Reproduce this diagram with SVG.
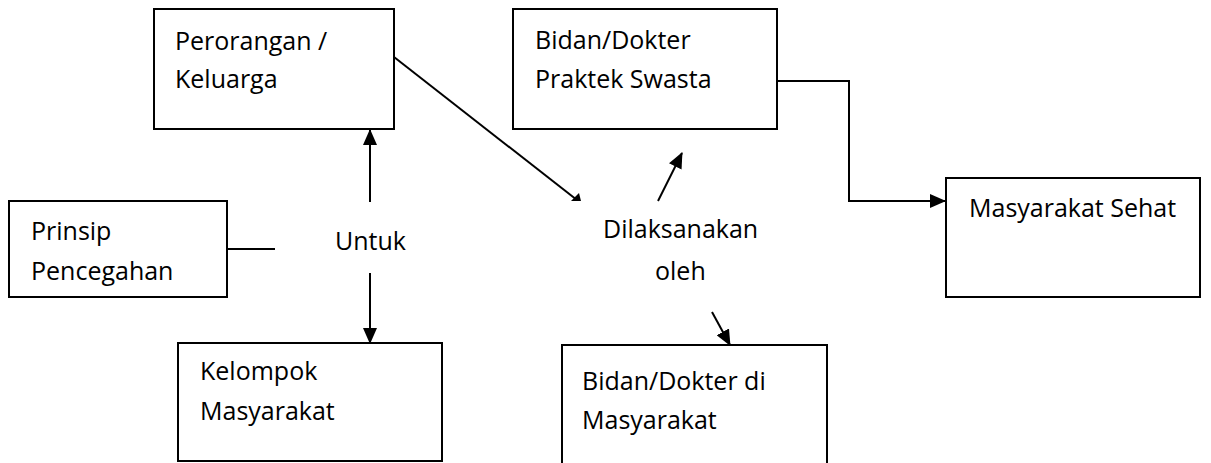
<svg xmlns="http://www.w3.org/2000/svg" width="1211" height="463" viewBox="0 0 1211 463">
<style>
.box{fill:#fff;stroke:#000;stroke-width:2}
.t{font-family:"Open Sans","Liberation Sans",sans-serif;font-size:25px;fill:#000}
.ln{fill:none;stroke:#000;stroke-width:2}
</style>
<defs>
<marker id="ah" markerUnits="userSpaceOnUse" markerWidth="16" markerHeight="14" refX="15" refY="7" orient="auto">
<path d="M0,0 L16,7 L0,14 Z" fill="#000"/>
</marker>
</defs>
<rect width="1211" height="463" fill="#fff"/>
<g id="connectors">
<line class="ln" x1="370" y1="202" x2="370" y2="130" marker-end="url(#ah)"/>
<line class="ln" x1="370" y1="273" x2="370" y2="343" marker-end="url(#ah)"/>
<line class="ln" x1="227" y1="249" x2="275" y2="249"/>
<line class="ln" x1="394" y1="57" x2="577" y2="200"/>
<polygon points="571,201 579,193 581,201" fill="#000"/>
<line class="ln" x1="658" y1="201" x2="682" y2="153" marker-end="url(#ah)"/>
<line class="ln" x1="712" y1="312" x2="730" y2="345" marker-end="url(#ah)"/>
<polyline class="ln" points="777,81 849,81 849,201 945,201" marker-end="url(#ah)"/>
</g>
<g id="perorangan">
<rect class="box" x="154" y="9" width="240" height="120"/>
<text class="t" x="175" y="50">Perorangan /</text>
<text class="t" x="175" y="88">Keluarga</text>
</g>
<g id="bidan-swasta">
<rect class="box" x="513" y="9" width="264" height="120"/>
<text class="t" x="535" y="49">Bidan/Dokter</text>
<text class="t" x="535" y="88">Praktek Swasta</text>
</g>
<g id="prinsip">
<rect class="box" x="9" y="201" width="218" height="96"/>
<text class="t" x="31" y="240">Prinsip</text>
<text class="t" x="31" y="280">Pencegahan</text>
</g>
<g id="untuk">
<text class="t" x="335" y="250">Untuk</text>
</g>
<g id="dilaksanakan">
<text class="t" x="603" y="238">Dilaksanakan</text>
<text class="t" x="655" y="280">oleh</text>
</g>
<g id="kelompok">
<rect class="box" x="178" y="343" width="264" height="118"/>
<text class="t" x="200" y="380">Kelompok</text>
<text class="t" x="200" y="420">Masyarakat</text>
</g>
<g id="bidan-masyarakat">
<rect class="box" x="562" y="345" width="265" height="130"/>
<text class="t" x="582" y="390">Bidan/Dokter di</text>
<text class="t" x="582" y="429">Masyarakat</text>
</g>
<g id="masyarakat-sehat">
<rect class="box" x="946" y="178" width="254" height="119"/>
<text class="t" x="969" y="217">Masyarakat Sehat</text>
</g>
</svg>
